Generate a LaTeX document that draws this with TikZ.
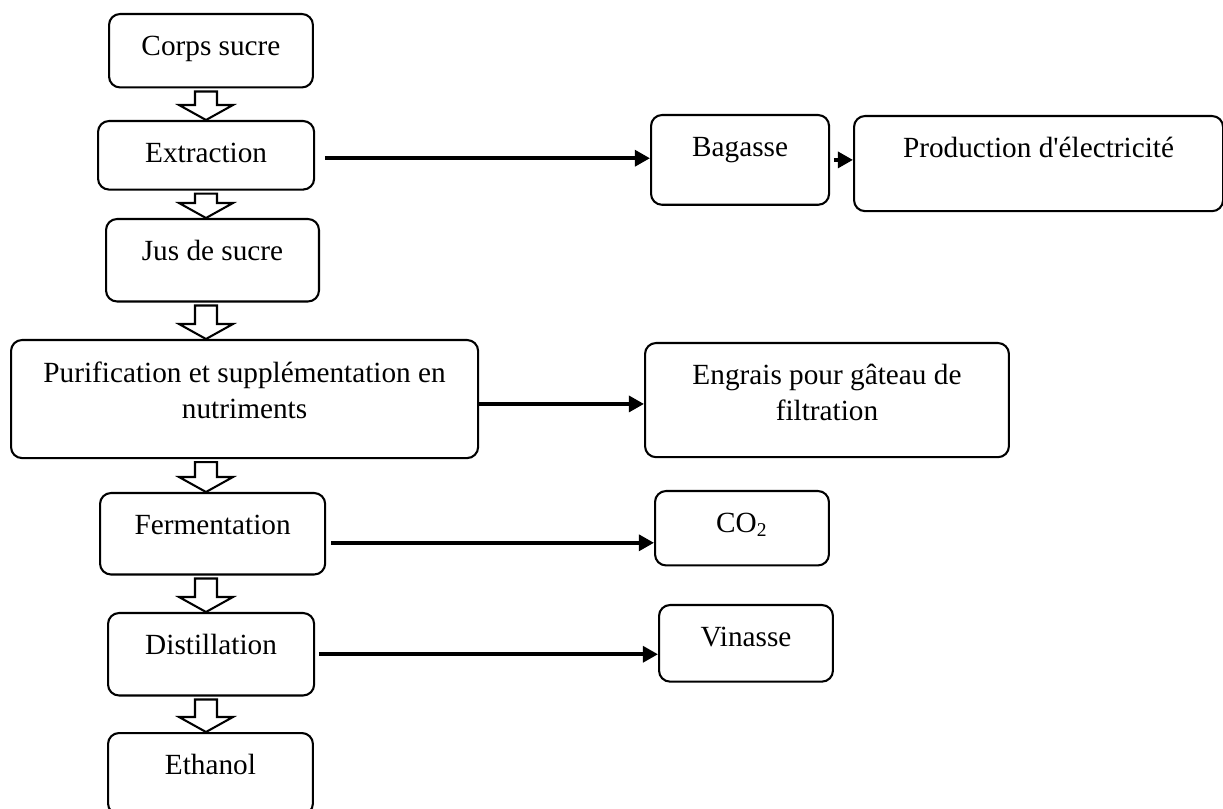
\documentclass[tikz,border=0pt]{standalone}
\usepackage{fontspec}
\setmainfont{Liberation Serif}
\usetikzlibrary{arrows.meta,calc}

\begin{document}
\begin{tikzpicture}[x=0.41pt,y=-0.41pt,
    box/.style={draw, line width=0.85pt, rounded corners=4.5pt, align=center, anchor=north west,
        inner ysep=0pt, text height=17pt, text depth=#1, font=\fontsize{12}{14.4}\selectfont},
    flow/.style={line width=1.5pt, -{Triangle[length=6.2pt,width=6.5pt]}},
    hollow/.style={draw, fill=white, line width=0.85pt,
        to path={($(\tikztostart)+(-11,3)$) -- ($(\tikztostart)+(11,3)$) -- ($(\tikztotarget)+(11,-15)$)
            -- ($(\tikztotarget)+(27,-15)$) -- (\tikztotarget) -- ($(\tikztotarget)+(-27,-15)$)
            -- ($(\tikztotarget)+(-11,-15)$) -- cycle}}]
    \useasboundingbox (0,0) rectangle (1223,809);
    \coordinate (spine) at (206,0);

    \node[box=13.1pt, minimum width=83.6pt] (corps) at (108,13) {Corps sucre};
    \node[box=11.1pt, minimum width=88.6pt] (extraction) at (97,120) {Extraction};
    \node[box=16.8pt, minimum width=87.3pt] (jus) at (105,218) {Jus de sucre};
    \node[box=16.4pt, text height=32pt, minimum width=191.5pt] (purif) at (10,339) {Purification et supplémentation en\\nutriments};
    \node[box=16.4pt, minimum width=92.3pt] (ferment) at (99,492) {Fermentation};
    \node[box=16.8pt, minimum width=84.5pt] (distill) at (107,612) {Distillation};
    \node[box=16.4pt, minimum width=84pt] (ethanol) at (107,732) {Ethanol};

    \node[box=19.8pt, minimum width=73pt] (bagasse) at (650,114) {Bagasse};
    \node[box=22pt, minimum width=151.3pt] (production) at (853,115) {Production d\textquotesingle électricité};
    \node[box=15.2pt, text height=31.6pt, minimum width=149.2pt] (engrais) at (644,342) {Engrais pour gâteau de\\filtration};
    \node[box=13.5pt, minimum width=71.3pt] (co2) at (654,490) {CO\textsubscript{2}};
    \node[box=14.4pt, minimum width=71.3pt] (vinasse) at (658,604) {Vinasse};

    \draw[hollow] (corps.south -| spine) to (extraction.north -| spine);
    \draw[hollow] (extraction.south -| spine) to (jus.north -| spine);
    \draw[hollow] (jus.south -| spine) to (purif.north -| spine);
    \draw[hollow] (purif.south -| spine) to (ferment.north -| spine);
    \draw[hollow] (ferment.south -| spine) to (distill.north -| spine);
    \draw[hollow] (distill.south -| spine) to (ethanol.north -| spine);

    \draw[flow] ([xshift=4pt,yshift=-1.2pt]extraction.east) -- ([yshift=-1.2pt]extraction.east -| bagasse.west);
    \draw[flow] ([xshift=1.5pt]bagasse.east) -- (production.west |- bagasse.east);
    \draw[flow] ([yshift=-2pt]purif.east) -- ([yshift=-2pt]purif.east -| engrais.west);
    \draw[flow] ([xshift=2pt,yshift=-3.7pt]ferment.east) -- ([yshift=-3.7pt]ferment.east -| co2.west);
    \draw[flow] ([xshift=1.5pt]distill.east) -- (distill.east -| vinasse.west);
\end{tikzpicture}
\end{document}
